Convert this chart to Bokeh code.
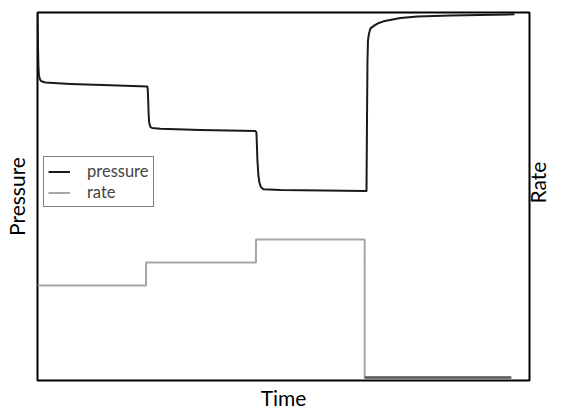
import math
from bokeh.plotting import figure
from bokeh.models import Range1d, LinearAxis, FixedTicker, Legend, LegendItem
from bokeh.embed import file_html
from bokeh.resources import INLINE

# Pressure response (time in arbitrary units 0-100, pressure in % of full scale)
pressure_time = [0.0, 0.1, 0.2, 0.3, 0.5, 0.8, 1.6, 6.7, 14.8, 22.3,
                 22.4, 22.5, 22.6, 22.7, 22.9, 23.3, 25.0, 33.1, 44.3,
                 44.5, 44.6, 44.7, 44.9, 45.1, 45.4, 45.9, 49.4, 66.7,
                 66.87, 66.97, 67.07, 67.17, 67.38, 67.68, 68.5, 69.11, 70.33,
                 73.78, 77.24, 83.94, 96.95]
pressure_values = [100.0, 91.0, 84.8, 82.9, 81.8, 81.3, 81.0, 80.6, 80.2, 79.9,
                   79.3, 76.1, 72.0, 70.1, 69.0, 68.6, 68.4, 68.1, 67.8,
                   67.4, 63.9, 59.8, 55.7, 53.8, 52.6, 52.0, 51.8, 51.5,
                   51.5, 70.7, 87.0, 92.4, 94.3, 95.7, 96.5, 97.0, 97.6,
                   98.5, 98.9, 99.2, 99.5]

# Flow rate schedule (step changes, then shut-in)
rate_time = [0.0, 22.05, 44.4, 66.5, 96.3]
rate_values = [1.0, 1.25, 1.5, 0.0, 0.0]

x_label = "Time"
y_label = "Pressure"
y2_label = "Rate"
legend_labels = ["pressure", "rate"]
rate_title_at = 1.891  # rate-axis value where the right-hand title starts

FONT = "Lato"

p = figure(width=565, height=412, output_backend="svg", toolbar_location=None,
           x_range=Range1d(0, 100), y_range=Range1d(0, 100),
           min_border_left=37, min_border_right=36, min_border_top=12, min_border_bottom=32)
p.grid.visible = False
p.outline_line_color = "black"
p.outline_line_width = 2
p.background_fill_color = "white"
p.border_fill_color = "white"

p.extra_y_ranges = {"rate": Range1d(-0.033, 3.967)}
rax = LinearAxis(y_range_name="rate")
p.add_layout(rax, "right")


def style_axis(ax, label, size, standoff):
    ax.ticker = FixedTicker(ticks=[])
    ax.axis_label = label
    ax.axis_label_text_font = FONT
    ax.axis_label_text_font_size = size
    ax.axis_label_text_font_style = "normal"
    ax.axis_label_text_color = "black"
    ax.axis_label_standoff = standoff
    ax.axis_line_color = None
    ax.major_tick_line_color = None
    ax.minor_tick_line_color = None
    ax.major_tick_in = 0
    ax.major_tick_out = 0
    ax.minor_tick_in = 0
    ax.minor_tick_out = 0
    ax.major_label_text_font_size = "0px"
    ax.major_label_standoff = 0


style_axis(p.xaxis[0], x_label, "21px", 4)
style_axis(p.yaxis[0], y_label, "21px", 9)
style_axis(rax, None, "21px", 0)
# right-hand title drawn as the single tick label of the rate axis (reads bottom-to-top)
rax.ticker = FixedTicker(ticks=[rate_title_at])
rax.major_label_overrides = {rate_title_at: y2_label}
rax.major_label_orientation = math.pi / 2
rax.major_label_text_font = FONT
rax.major_label_text_font_size = "21px"
rax.major_label_text_color = "black"
rax.major_label_standoff = 8

pr = p.line(pressure_time, pressure_values, line_color="#1a1a1a", line_width=2,
            line_join="round")
rt = p.step(rate_time, rate_values, mode="after", line_color="#a6a6a6", line_width=2,
            y_range_name="rate")
p.line(rate_time[-2:], rate_values[-2:], line_color="#5a5a5a", line_width=2.5,
       y_range_name="rate")

legend = Legend(items=[LegendItem(label=legend_labels[0], renderers=[pr]),
                       LegendItem(label=legend_labels[1], renderers=[rt])],
                location=(6, 173))
legend.border_line_color = "black"
legend.border_line_width = 1
legend.background_fill_color = "white"
legend.background_fill_alpha = 1
legend.label_text_font = FONT
legend.label_text_font_size = "16.5px"
legend.padding = 4
legend.margin = 0
legend.spacing = 1
legend.glyph_width = 22
legend.glyph_height = 17
legend.label_height = 17
legend.label_standoff = 17
p.add_layout(legend)

open("out.html", "w").write(file_html(p, INLINE))
